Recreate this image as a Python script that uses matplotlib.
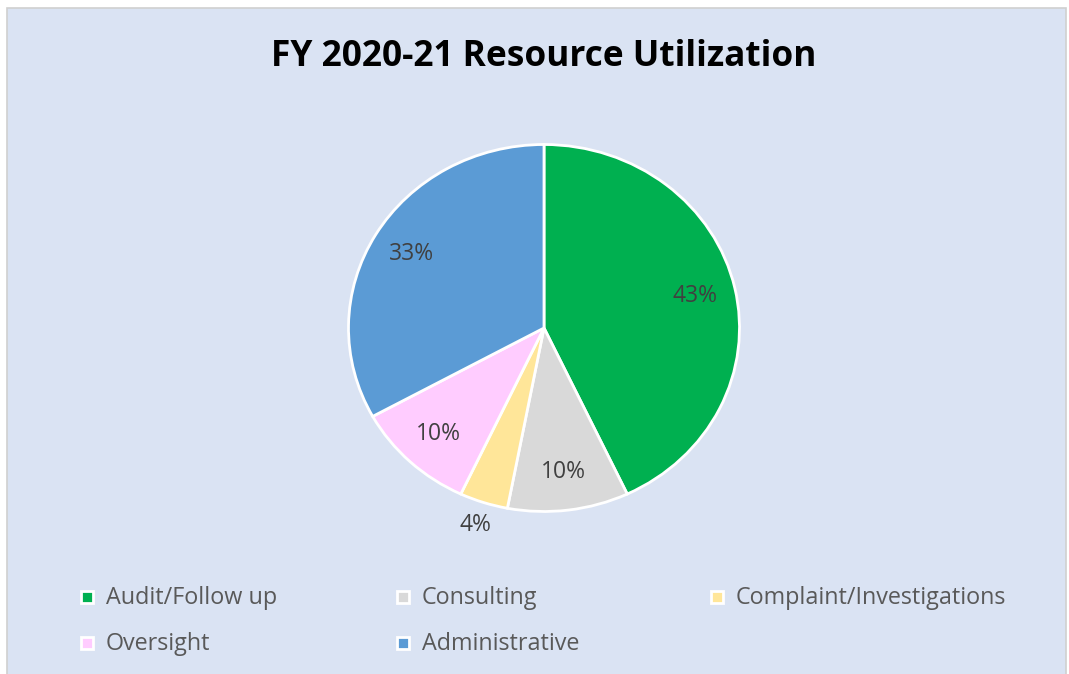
import matplotlib
matplotlib.use('Agg')
import matplotlib.pyplot as plt
from matplotlib.patches import Rectangle

plt.rcParams['font.family'] = ['Open Sans', 'DejaVu Sans']

# data
categories = ['Audit/Follow up', 'Consulting', 'Complaint/Investigations',
              'Oversight', 'Administrative']
shares = [43, 10, 4, 10, 33]
colors = ['#00B050', '#D9D9D9', '#FFE699', '#FFCCFF', '#5B9BD5']
title = 'FY 2020-21 Resource Utilization'

W, H = 1069, 674
fig = plt.figure(figsize=(W / 100, H / 100), dpi=100)
fig.patch.set_facecolor('white')

# chart area with grey border
fig.patches.append(Rectangle((7 / W, -0.01), (W - 10) / W, (H - 8) / H + 0.01,
                             transform=fig.transFigure, facecolor='#DAE3F3',
                             edgecolor='#D0D0D0', linewidth=1.2, zorder=-5))

fig.text(544 / W, 1 - 57 / H, title, ha='center', va='center',
         fontsize=25.4, fontweight='bold', color='black')

# pie is slightly stretched sideways in the reference
cx, cy, rx, ry = 544, 328, 195.5, 183.5
ax = fig.add_axes([(cx - rx) / W, 1 - (cy + ry) / H, 2 * rx / W, 2 * ry / H])
ax.set_zorder(2)
wedges, texts, autotexts = ax.pie(
    shares, colors=colors, startangle=90, counterclock=False,
    autopct=lambda p: '{:.0f}%'.format(p), pctdistance=0.79,
    wedgeprops=dict(edgecolor='white', linewidth=2),
    textprops=dict(fontsize=16.5, color='#404040'))
ax.set_aspect('auto')
ax.set_xlim(-1, 1)
ax.set_ylim(-1, 1)
ax.axis('off')

# small slice label sits outside
x, y = autotexts[2].get_position()
autotexts[2].set_position((x / 0.79 * 1.13, y / 0.79 * 1.13))

# legend, laid out like the reference
legend_pos = [(87, 597), (403, 597), (717, 597), (87, 643), (403, 643)]
for (lx, ly), name, col in zip(legend_pos, categories, colors):
    fig.patches.append(Rectangle(((lx - 6) / W, 1 - (ly + 6) / H), 12 / W, 12 / H,
                                 transform=fig.transFigure, facecolor=col,
                                 edgecolor='white', linewidth=2, zorder=2))
    fig.text((lx + 19) / W, 1 - (ly + 1) / H, name, ha='left', va='center',
             fontsize=16.8, color='#595959')

fig.savefig('out.png', dpi=100, facecolor=fig.get_facecolor())
